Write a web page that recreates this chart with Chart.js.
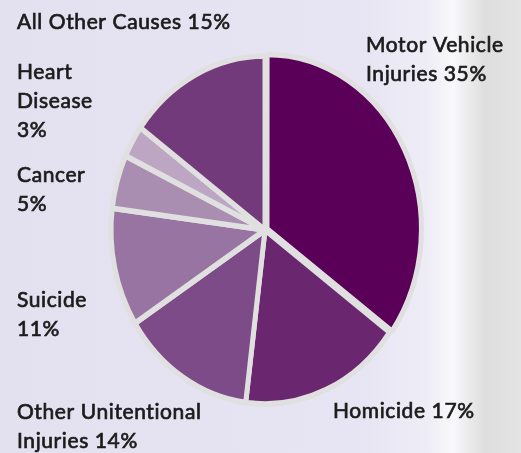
<!DOCTYPE html>
<html>
<head>
<meta charset="utf-8">
<script src="https://cdn.jsdelivr.net/npm/chart.js@4"></script>
<style>
  html, body { margin: 0; padding: 0; }
  body {
    width: 521px; height: 453px; overflow: hidden;
    background: linear-gradient(to right, #e3e0f0 0%, #e7e5f3 70%, #eeedf6 82%, #f8f8fb 87%, #dedede 93%, #e4e4e4 100%);
  }
  #wrap { position: relative; width: 521px; height: 453px; }
</style>
</head>
<body>
<div id="wrap"><canvas id="chart" width="521" height="453"></canvas></div>
<script>
// slices, clockwise from 12 o'clock
const causes = ['Motor Vehicle Injuries', 'Homicide', 'Other Unintentional Injuries', 'Suicide', 'Cancer', 'Heart Disease', 'All Other Causes'];
const shares = [35, 17, 14, 11, 5, 3, 15];
const labelLines = [
  ['Motor Vehicle', 'Injuries 35%'],
  ['Homicide 17%'],
  ['Other Unitentional', 'Injuries 14%'],
  ['Suicide', '11%'],
  ['Cancer', '5%'],
  ['Heart', 'Disease', '3%'],
  ['All Other Causes 15%']
];

const colors = ['#5a0058', '#6a2770', '#7d4b87', '#9874a2', '#a98eb2', '#bca6c3', '#733a7b'];
const labelPos = [[366, 45], [333, 411], [17, 412], [17, 300], [17, 175], [17, 72], [17, 22]];
const stretchY = 1.13; // the pie in the picture is an upright ellipse

const stretch = {
  id: 'stretch',
  beforeDatasetsDraw(chart) {
    const arc = chart.getDatasetMeta(0).data[1];
    const ctx = chart.ctx;
    ctx.save();
    ctx.translate(arc.x, arc.y);
    ctx.scale(1, stretchY);
    ctx.translate(-arc.x, -arc.y);
  },
  afterDatasetsDraw(chart) {
    chart.ctx.restore();
  }
};

const sliceLabels = {
  id: 'sliceLabels',
  afterDraw(chart) {
    const ctx = chart.ctx;
    ctx.save();
    ctx.fillStyle = '#1c1c1c';
    ctx.strokeStyle = '#1c1c1c';
    ctx.lineWidth = 0.7;
    ctx.font = '21px Lato';
    ctx.letterSpacing = '0.6px';
    ctx.textBaseline = 'middle';
    labelLines.forEach((lines, i) => {
      lines.forEach((t, j) => {
        ctx.fillText(t, labelPos[i][0], labelPos[i][1] + j * 29);
        ctx.strokeText(t, labelPos[i][0], labelPos[i][1] + j * 29);
      });
    });
    ctx.restore();
  }
};

new Chart(document.getElementById('chart').getContext('2d'), {
  type: 'pie',
  data: {
    labels: causes,
    datasets: [{
      data: shares,
      backgroundColor: colors,
      borderColor: '#e0e0e0',
      borderWidth: 5,
      offset: [9, 0, 0, 0, 0, 0, 0]
    }]
  },
  options: {
    responsive: false,
    animation: false,
    radius: 154,
    layout: { padding: { left: 9, top: 7 } },
    plugins: {
      legend: { display: false },
      tooltip: { enabled: false }
    }
  },
  plugins: [stretch, sliceLabels]
});
</script>
</body>
</html>
